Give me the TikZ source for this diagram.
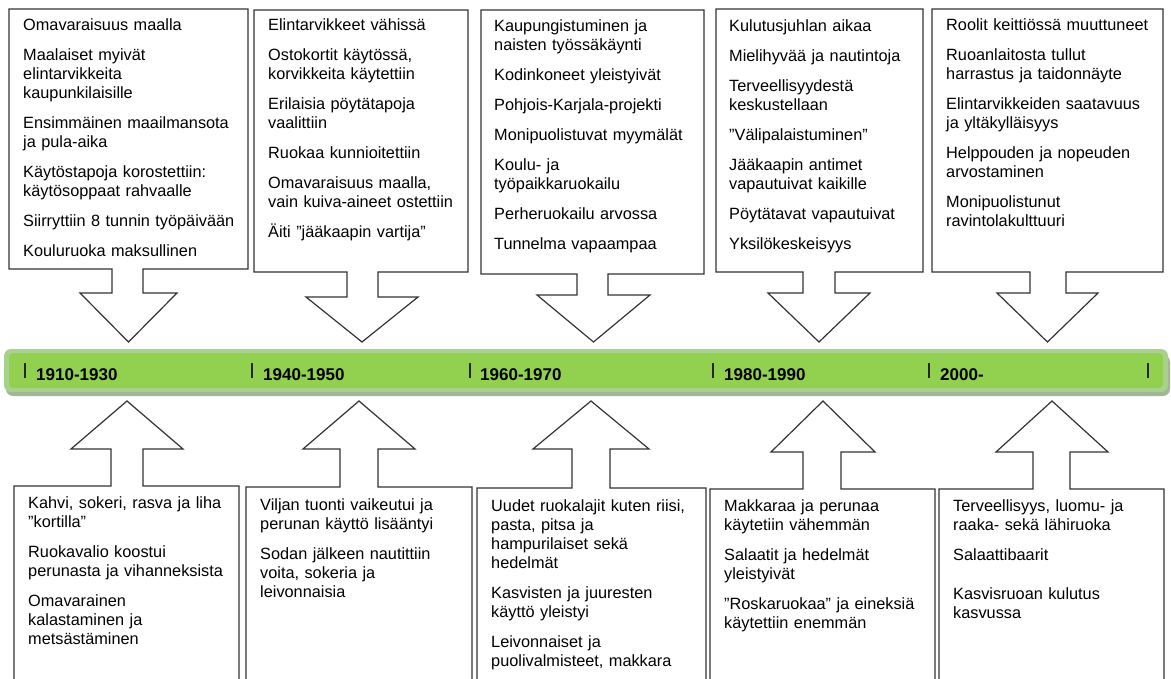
\documentclass[tikz,border=0pt]{standalone}
\usepackage{fontspec}
\setmainfont{Liberation Sans}
\definecolor{barmain}{HTML}{92D050}
\definecolor{barrim}{HTML}{A9D18E}
\definecolor{barshade}{HTML}{A2B794}
\definecolor{outline}{HTML}{333333}

% Box with a downward arrow: L, T, R, B, shaft L, shaft R, head L, head R, head y
\newcommand\topcallout[9]{%
  \draw[callout] (#1,#2) -- (#3,#2) -- (#3,#4) -- (#6,#4) -- (#6,#9) -- (#8,#9)
    -- ({(#7+#8)/2},342) -- (#7,#9) -- (#5,#9) -- (#5,#4) -- (#1,#4) -- cycle;}
% Box with an upward arrow (open at the bottom): L, T, R, shaft L, shaft R, head L, head R, head y
\newcommand\botcallout[8]{%
  \draw[callout] (#1,700) -- (#1,#2) -- (#4,#2) -- (#4,#8) -- (#6,#8)
    -- ({(#6+#7)/2},401) -- (#7,#8) -- (#5,#8) -- (#5,#2) -- (#3,#2) -- (#3,700);}

\tikzset{
  callout/.style={draw=outline, line width=1.2pt, fill=white, line join=miter},
  txt/.style={anchor=base west, inner sep=0pt, text width=250pt, align=left,
    font=\fontsize{16.3}{19}\selectfont},
  era/.style={anchor=base west, inner sep=0pt, font=\fontsize{17}{20}\selectfont\bfseries},
  ticker/.style={line width=1.3pt, draw=black!85},
}
\newcommand\psep{\\[11pt]}

\begin{document}
\begin{tikzpicture}[x=1pt, y=-1pt]
\useasboundingbox (0,0) rectangle (1171,679);
\clip (0,0) rectangle (1171,679);

% upper callouts
\topcallout{9}{9}{248}{269}{112}{143}{80}{177}{293}
\topcallout{254}{10}{468}{272}{347}{378}{306}{418}{297}
\topcallout{481}{10}{704}{274}{577}{608}{537}{650}{295}
\topcallout{716}{9}{923}{272}{803}{835}{768}{870}{293}
\topcallout{932}{9}{1163}{272}{1030}{1066}{997}{1098}{293}

\node[txt] (t1) at (23,30.8) {Omavaraisuus maalla\psep
Maalaiset myivät\\elintarvikkeita\\kaupunkilaisille\psep
Ensimmäinen maailmansota\\ja pula-aika\psep
Käytöstapoja korostettiin:\\käytösoppaat rahvaalle\psep
Siirryttiin 8 tunnin työpäivään\psep
Kouluruoka maksullinen};

\node[txt] (t2) at (268,30.8) {Elintarvikkeet vähissä\psep
Ostokortit käytössä,\\korvikkeita käytettiin\psep
Erilaisia pöytätapoja\\vaalittiin\psep
Ruokaa kunnioitettiin\psep
Omavaraisuus maalla,\\vain kuiva-aineet ostettiin\psep
Äiti ”jääkaapin vartija”};

\node[txt] (t3) at (494,31.8) {Kaupungistuminen ja\\naisten työssäkäynti\psep
Kodinkoneet yleistyivät\psep
Pohjois-Karjala-projekti\psep
Monipuolistuvat myymälät\psep
Koulu- ja\\työpaikkaruokailu\psep
Perheruokailu arvossa\psep
Tunnelma vapaampaa};

\node[txt] (t4) at (729,31.8) {Kulutusjuhlan aikaa\psep
Mielihyvää ja nautintoja\psep
Terveellisyydestä\\keskustellaan\psep
”Välipalaistuminen”\psep
Jääkaapin antimet\\vapautuivat kaikille\psep
Pöytätavat vapautuivat\psep
Yksilökeskeisyys};

\node[txt] (t5) at (946,30.8) {Roolit keittiössä muuttuneet\psep
Ruoanlaitosta tullut\\harrastus ja taidonnäyte\psep
Elintarvikkeiden saatavuus\\ja yltäkylläisyys\psep
Helppouden ja nopeuden\\arvostaminen\psep
Monipuolistunut\\ravintolakulttuuri};

% timeline bar
\fill[barshade] (6,355) [rounded corners=7pt] rectangle (1170,396);
\fill[barrim] (4,349) [rounded corners=7pt] rectangle (1168,392);
\fill[barmain] (9,353) [rounded corners=4pt] rectangle (1163,388);

\foreach \x/\name in {25/a,252/b,470/c,713/d,929/e,1148/f}
  \draw[ticker] (\x,363) -- (\x,378);

\node[era] (e1) at (36,380) {1910-1930};
\node[era] (e2) at (263,380) {1940-1950};
\node[era] (e3) at (480,380) {1960-1970};
\node[era] (e4) at (724,380) {1980-1990};
\node[era] (e5) at (940,380) {2000-};

% lower callouts
\botcallout{14}{486}{239}{111}{143}{71}{183}{449}
\botcallout{246}{487}{472}{340}{378}{303}{415}{449}
\botcallout{477}{488}{706}{572}{610}{533}{649}{449}
\botcallout{710}{489}{935}{803}{841}{771}{875}{452}
\botcallout{939}{489}{1164}{1033}{1070}{996}{1108}{452}

\node[txt] (b1) at (28,508.5) {Kahvi, sokeri, rasva ja liha\\”kortilla”\psep
Ruokavalio koostui\\perunasta ja vihanneksista\psep
Omavarainen\\kalastaminen ja\\metsästäminen};

\node[txt] (b2) at (260,510) {Viljan tuonti vaikeutui ja\\perunan käyttö lisääntyi\psep
Sodan jälkeen nautittiin\\voita, sokeria ja\\leivonnaisia};

\node[txt] (b3) at (491,511) {Uudet ruokalajit kuten riisi,\\pasta, pitsa ja\\hampurilaiset sekä\\hedelmät\psep
Kasvisten ja juuresten\\käyttö yleistyi\psep
Leivonnaiset ja\\puolivalmisteet, makkara};

\node[txt] (b4) at (724,511.5) {Makkaraa ja perunaa\\käytetiin vähemmän\psep
Salaatit ja hedelmät\\yleistyivät\psep
”Roskaruokaa” ja eineksiä\\käytettiin enemmän};

\node[txt] (b5) at (953,511.5) {Terveellisyys, luomu- ja\\raaka- sekä lähiruoka\psep
Salaattibaarit\\[20pt]
Kasvisruoan kulutus\\kasvussa};
\end{tikzpicture}
\end{document}
